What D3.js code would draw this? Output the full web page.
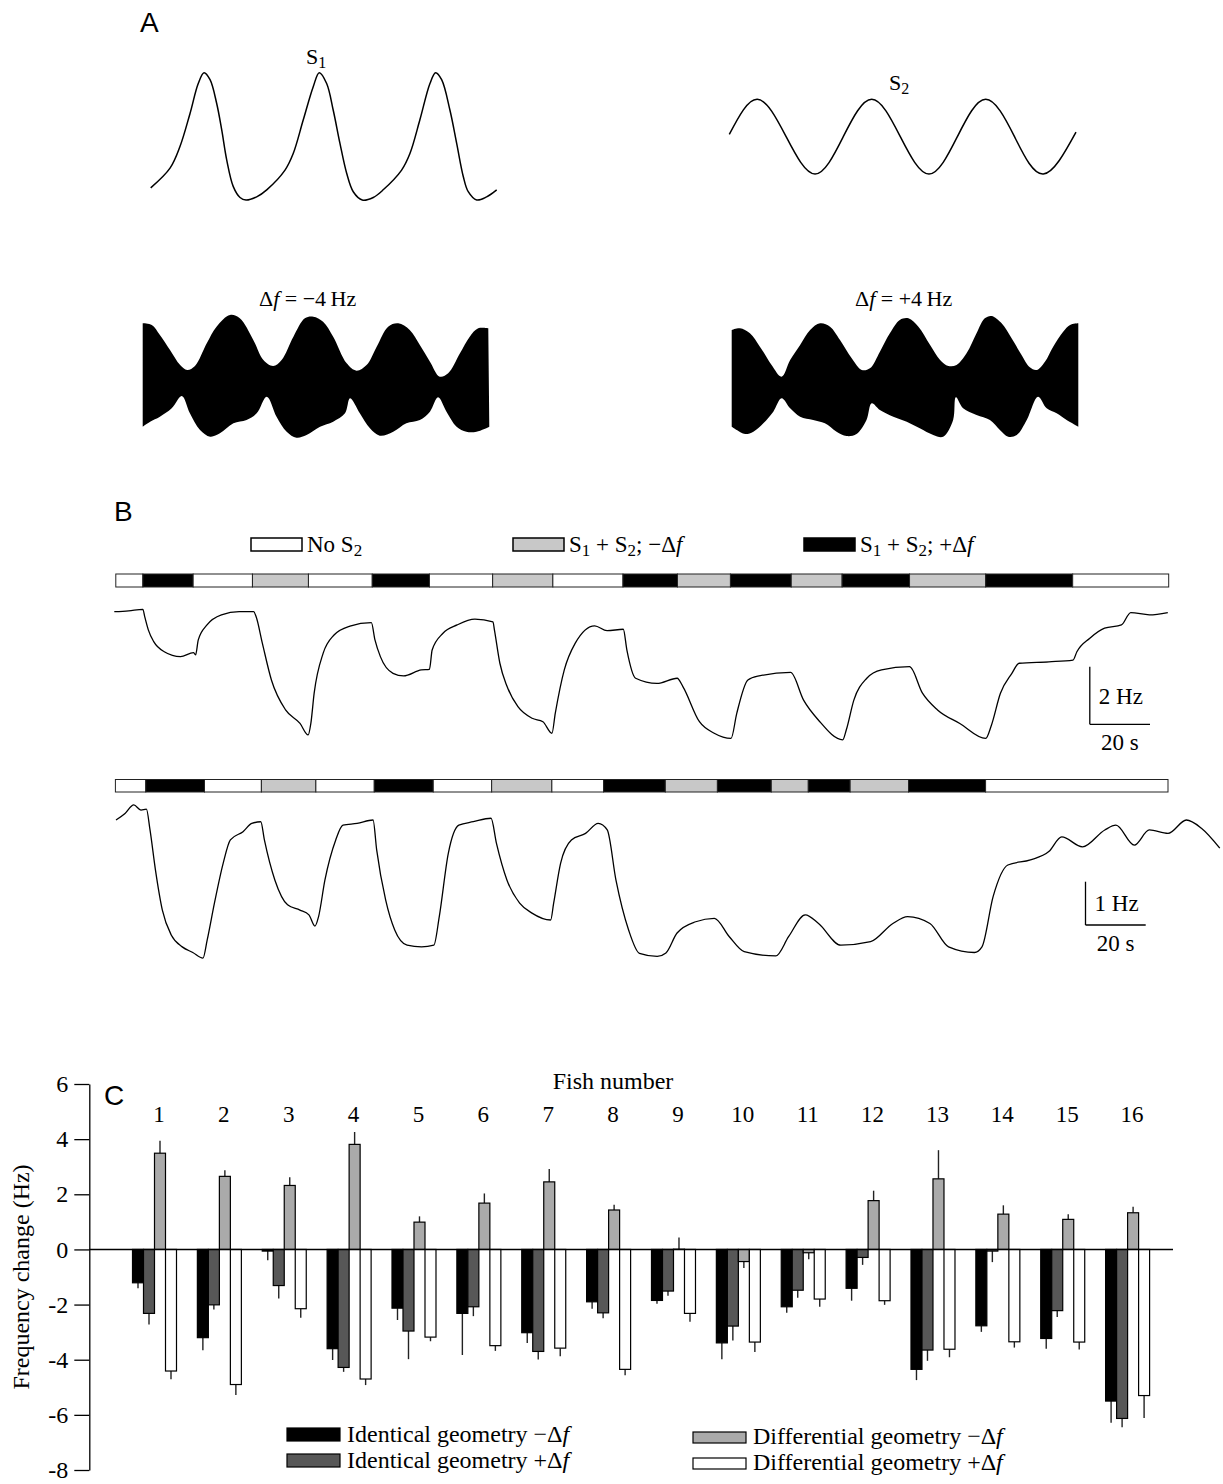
<!DOCTYPE html>
<html>
<head>
<meta charset="utf-8">
<script src="https://cdn.jsdelivr.net/npm/d3@7"></script>
<style>
body { margin: 0; background: #fff; }
text { font-family: "Liberation Serif", "Times New Roman", serif; fill: #000; }
.plabel { font-family: "Liberation Sans", Arial, sans-serif; font-size: 28px; }
</style>
</head>
<body>
<svg id="fig" width="1223" height="1484"></svg>
<script>
// ---------- panel A: stimulus waveforms (phase in cycles, normalised amplitude)
var s1Phase = [0,0.167,0.253,0.340,0.411,0.461,0.513,0.570,0.614,0.657,0.714,0.772,0.824,0.916,1.003,1.161,1.232,1.319,1.405,1.457,1.521,1.578,1.636,1.694,1.751,1.829,1.924,2.010,2.169,2.241,2.327,2.414,2.463,2.515,2.587,2.645,2.702,2.745,2.818,2.904,2.991];
var s1Amp = [-0.81,-0.50,-0.16,0.36,0.83,1.0,0.89,0.52,0.10,-0.37,-0.79,-0.96,-1.0,-0.95,-0.84,-0.53,-0.27,0.26,0.78,1.0,0.83,0.41,-0.11,-0.58,-0.87,-1.0,-0.96,-0.84,-0.53,-0.27,0.26,0.83,1.0,0.89,0.41,-0.11,-0.63,-0.87,-1.0,-0.95,-0.84];
var s2Phase = [0,0.245,0.497,0.75,0.997,1.246,1.496,1.747,1.995,2.243,2.495,2.747,3.033];
var s2Amp = [0.06,1,0,-1,0,1,0,-1,0,1,0,-1,0.12];

// beat envelopes (time ms, amplitude a.u.)
var beatMinusUpT = [0,27,51,81,111,132,155,190,219,259,288,328,358,387,412,447,481,506,535,565,605,634,664,694,728,758,792,822,852,881,906,941,970,995,1025];
var beatMinusUpA = [17,16.5,13.5,9,4.5,3,4.2,11,16,19.5,18.5,12,6,4.2,6,13,18.5,19,17.5,13,5,2.8,4.5,10,16,17,15,10.5,5.5,1,2,8,13,15.5,15.5];
var beatMinusLoT = [0,22,51,86,116,140,170,200,229,269,308,338,368,397,427,456,486,526,565,600,615,644,674,703,743,782,822,852,876,901,931,960,990,1028];
var beatMinusLoA = [-14,-12.5,-11,-8.5,-4.8,-10,-15,-17,-16,-13,-12,-10,-5,-11,-15.5,-17.3,-16.5,-14,-12.5,-10,-5.5,-10,-14.5,-16.7,-15.5,-13,-12,-9.5,-5.2,-9.5,-14,-15.5,-15.5,-14];
var beatPlusUpT = [0,24,53,82,116,145,170,199,228,257,286,315,349,378,402,431,460,489,514,543,577,606,630,654,683,712,736,756,785,814,843,867,887,911,935,964,984,1008];
var beatPlusUpA = [15,15.5,14,10,4.5,1,6,10.5,15,17,16,12,6.5,3,3.5,8.5,14,18,18.5,16,10.5,6,4.2,4.5,8,14,18.5,19.2,17,12.5,7.5,3.8,3,5.5,10,14.5,16.5,17];
var beatPlusLoT = [0,15,39,63,92,121,145,170,199,237,271,305,334,363,392,407,431,470,509,547,586,615,644,652,673,712,751,780,804,829,858,891,916,945,974,1008];
var beatPlusLoA = [-14,-15,-16.2,-15.5,-13,-9.5,-5.5,-8.5,-11,-12,-13,-15.5,-16.8,-16.2,-12,-7,-9,-11,-12.5,-14.5,-16.5,-17,-12,-5.2,-8.5,-10.5,-12,-15,-17,-16.5,-12,-5,-8.5,-10,-12,-14];

// ---------- panel B: stimulus protocol (s) and frequency traces (Hz, relative)
var stimKinds = ["none","plus","none","minus","none","plus","none","minus","none","plus","minus","plus","minus","plus","minus","plus","none"];
var stim1Edges = [0,9.0,25.7,45.4,64.0,85.2,104.2,125.2,145.2,168.5,186.6,204.2,224.4,241.3,263.7,289.0,317.9,349.8];
var stim2Edges = [0,10.1,29.6,48.5,66.6,86.0,105.6,125.0,145.0,162.2,182.7,200.0,217.9,230.2,244.1,263.5,289.1,349.7];

var trace1T = [-0.5,4.3,9.0,9.6,10.8,12.6,16.1,21.5,25.8,26.5,27.4,30.3,35.1,41.0,45.8,46.6,48.7,51.7,56.4,61.2,63.9,64.8,65.9,68.9,72.5,77.8,84.9,86.1,87.9,92.1,95.6,101.5,104.2,105.1,108.7,113.4,119.3,125.3,125.8,127.6,130.0,133.6,138.3,141.9,144.9,146.0,149.0,152.6,159.1,163.2,168.6,169.8,172.7,179.8,186.5,188.4,193.9,198.8,204.4,206.3,210.0,213.7,224.2,228.5,233.4,241.5,242.7,245.2,249.5,254.4,263.7,268.0,273.0,280.4,289.0,290.9,293.9,297.7,300.1,310.0,318.0,319.3,323.6,328.5,334.1,337.2,343.4,349.5];
var trace1F = [0,0.03,0.08,-0.17,-0.63,-1.04,-1.39,-1.56,-1.42,-1.50,-0.98,-0.46,-0.11,0,0,-0.17,-1.10,-2.37,-3.41,-3.88,-4.28,-3.88,-2.83,-1.44,-0.81,-0.50,-0.38,-0.98,-1.56,-2.14,-2.23,-2.02,-2.00,-1.33,-0.75,-0.46,-0.26,-0.35,-0.64,-1.79,-2.60,-3.30,-3.70,-3.82,-4.22,-3.53,-2.02,-1.10,-0.49,-0.66,-0.61,-1.33,-2.31,-2.49,-2.31,-2.60,-3.82,-4.22,-4.40,-3.53,-2.37,-2.23,-2.11,-3.07,-3.76,-4.45,-4.10,-3.07,-2.31,-2.02,-1.91,-2.83,-3.41,-3.88,-4.40,-3.94,-2.83,-2.14,-1.79,-1.74,-1.68,-1.39,-0.92,-0.57,-0.46,-0.03,-0.11,-0.03];
var trace2T = [0.2,3.2,6.1,8.5,10.3,11.5,13.3,15.6,18.6,22.2,25.7,29.1,30.5,32.9,35.8,38.2,42.4,45.3,48.3,49.5,53.0,57.2,61.3,64.3,66.3,67.5,69.6,73.2,75.6,80.3,85.6,86.8,89.8,92.8,96.9,101.7,105.8,107.6,110.6,114.1,118.9,124.8,126.6,130.1,134.3,138.4,144.6,145.6,147.9,151.5,156.2,160.4,163.4,166.3,170.5,174.1,180.0,182.9,186.6,192.8,199.0,203.9,208.9,219.4,223.7,229.2,233.6,241.0,250.9,258.3,263.2,270.6,276.8,285.4,287.9,291.6,296.5,304.0,310.1,314.4,321.3,328.7,332.4,338.5,343.5,349.7,355.8,360.8,366.9];
var trace2F = [0,0.15,0.35,0.23,0.25,-0.23,-1.15,-2.08,-2.66,-2.93,-3.06,-3.19,-2.77,-1.92,-1.0,-0.46,-0.27,-0.08,-0.04,-0.46,-1.39,-1.96,-2.08,-2.19,-2.45,-2.23,-1.39,-0.46,-0.12,-0.08,0,-0.69,-1.85,-2.54,-2.89,-2.93,-2.89,-2.23,-0.77,-0.12,-0.04,0.04,-0.54,-1.39,-1.92,-2.15,-2.31,-1.92,-1.0,-0.46,-0.31,-0.08,-0.23,-1.39,-2.54,-3.08,-3.15,-3.07,-2.61,-2.35,-2.27,-2.69,-3.04,-3.14,-2.69,-2.19,-2.39,-2.89,-2.81,-2.39,-2.23,-2.39,-2.93,-3.06,-2.93,-1.77,-1.04,-0.92,-0.73,-0.39,-0.62,-0.23,-0.12,-0.58,-0.23,-0.31,0,-0.19,-0.65];

// ---------- panel C: mean frequency change (Hz) and error per fish
var fish = d3.range(1, 17);
var yTicksC = [-8,-6,-4,-2,0,2,4,6];
var identMinus    = [-1.21,-3.20,-0.06,-3.60,-2.13,-2.32,-3.02,-1.90,-1.85,-3.39,-2.08,-1.41,-4.35,-2.77,-3.23,-5.50];
var identMinusErr = [0.20,0.46,0.33,0.41,0.43,1.51,0.37,0.25,0.12,0.59,0.22,0.45,0.39,0.22,0.37,0.79];
var identPlus     = [-2.32,-2.01,-1.31,-4.28,-2.96,-2.08,-3.70,-2.30,-1.51,-2.78,-1.48,-0.29,-3.65,-0.06,-2.22,-6.13];
var identPlusErr  = [0.40,0.17,0.47,0.16,1.02,0.34,0.29,0.20,0.17,0.52,0.27,0.27,0.39,0.40,0.23,0.32];
var diffMinus     = [3.49,2.65,2.32,3.81,0.99,1.68,2.45,1.43,0.01,-0.44,-0.12,1.77,2.56,1.28,1.09,1.33];
var diffMinusErr  = [0.45,0.22,0.30,0.45,0.21,0.35,0.47,0.19,0.42,0.23,0.24,0.36,1.04,0.32,0.19,0.22];
var diffPlus      = [-4.41,-4.90,-2.15,-4.70,-3.18,-3.49,-3.58,-4.35,-2.32,-3.36,-1.80,-1.86,-3.62,-3.35,-3.36,-5.30];
var diffPlusErr   = [0.30,0.38,0.33,0.22,0.15,0.19,0.29,0.21,0.30,0.36,0.28,0.15,0.29,0.21,0.27,0.81];

var svg = d3.select("#fig");

function zip(a, b) { return a.map(function(v, i) { return [v, b[i]]; }); }

// text with subscripts / italics
function rich(x, y, size, parts, anchor) {
    var t = svg.append("text").attr("x", x).attr("y", y)
        .style("font-size", size + "px").attr("text-anchor", anchor || "start");
    var shift = 0;
    parts.forEach(function(p) {
        var s = t.append("tspan").text(p.t);
        var want = p.sub ? Math.round(size * 0.18) : 0;
        if (want !== shift) { s.attr("dy", want - shift); shift = want; }
        if (p.sub) s.style("font-size", Math.round(size * 0.72) + "px");
        if (p.it) s.style("font-style", "italic");
    });
    return t;
}

// panel letters
svg.append("text").attr("class", "plabel").attr("x", 140).attr("y", 32).text("A");
svg.append("text").attr("class", "plabel").attr("x", 114).attr("y", 521).text("B");
svg.append("text").attr("class", "plabel").attr("x", 104).attr("y", 1105).text("C");

// ---------- A
var xS1 = d3.scaleLinear().domain([0, 2.991]).range([150.7, 496.7]);
var yS1 = d3.scaleLinear().domain([-1, 1]).range([200, 72.7]);
svg.append("path")
    .attr("d", d3.line().x(function(d) { return xS1(d[0]); }).y(function(d) { return yS1(d[1]); })
        .curve(d3.curveCatmullRom)(zip(s1Phase, s1Amp)))
    .attr("fill", "none").attr("stroke", "#000").attr("stroke-width", 1.5);

var xS2 = d3.scaleLinear().domain([0, 3.033]).range([729.3, 1076]);
var yS2 = d3.scaleLinear().domain([-1, 1]).range([174, 99.3]);
svg.append("path")
    .attr("d", d3.line().x(function(d) { return xS2(d[0]); }).y(function(d) { return yS2(d[1]); })
        .curve(d3.curveNatural)(zip(s2Phase, s2Amp)))
    .attr("fill", "none").attr("stroke", "#000").attr("stroke-width", 1.5);

rich(306, 64, 22, [{t: "S"}, {t: "1", sub: true}]);
rich(889, 90, 22, [{t: "S"}, {t: "2", sub: true}]);

var yBeat = d3.scaleLinear().domain([-20, 20]).range([446.7, 313.3]);
function beat(upT, upA, loT, loA, x) {
    var line = d3.line().x(function(d) { return x(d[0]); }).y(function(d) { return yBeat(d[1]); })
        .curve(d3.curveCatmullRom);
    var lo = zip(loT, loA).reverse();
    svg.append("path")
        .attr("d", line(zip(upT, upA)) + "L" + line(lo).slice(1) + "Z")
        .attr("fill", "#000");
}
beat(beatMinusUpT, beatMinusUpA, beatMinusLoT, beatMinusLoA, d3.scaleLinear().domain([0, 1028]).range([142.7, 489.3]));
beat(beatPlusUpT, beatPlusUpA, beatPlusLoT, beatPlusLoA, d3.scaleLinear().domain([0, 1008]).range([731.7, 1078.3]));

rich(259, 306, 22, [{t: "Δ"}, {t: "f", it: true}, {t: " = −4\u2009Hz"}]);
rich(855, 306, 22, [{t: "Δ"}, {t: "f", it: true}, {t: " = +4\u2009Hz"}]);

// ---------- B
var stimFill = { none: "#fff", minus: "#c8c8c8", plus: "#000" };

// legend
var legB = [
    { kind: "none", x: 251, parts: [{t: "No S"}, {t: "2", sub: true}] },
    { kind: "minus", x: 513, parts: [{t: "S"}, {t: "1", sub: true}, {t: " + S"}, {t: "2", sub: true}, {t: "; −Δ"}, {t: "f", it: true}] },
    { kind: "plus", x: 804, parts: [{t: "S"}, {t: "1", sub: true}, {t: " + S"}, {t: "2", sub: true}, {t: "; +Δ"}, {t: "f", it: true}] }
];
legB.forEach(function(d) {
    svg.append("rect").attr("x", d.x).attr("y", 538).attr("width", 51).attr("height", 13)
        .attr("fill", stimFill[d.kind]).attr("stroke", "#000").attr("stroke-width", 1.5);
    rich(d.x + 56, 552, 23, d.parts);
});

function stimBar(edges, x, y0, h) {
    var g = svg.append("g");
    g.selectAll("rect").data(stimKinds).enter().append("rect")
        .attr("x", function(d, i) { return x(edges[i]); })
        .attr("width", function(d, i) { return x(edges[i + 1]) - x(edges[i]); })
        .attr("y", y0).attr("height", h)
        .attr("fill", function(d) { return stimFill[d]; })
        .attr("stroke", "#222").attr("stroke-width", 1);
}

function trace(T, F, x, y) {
    svg.append("path")
        .attr("d", d3.line().x(function(d) { return x(d[0]); }).y(function(d) { return y(d[1]); })
            .curve(d3.curveMonotoneX)(zip(T, F)))
        .attr("fill", "none").attr("stroke", "#000").attr("stroke-width", 1.3)
        .attr("stroke-linejoin", "round");
}

function scaleBar(x, y, x0, yBottom, hz, label) {
    var len = x(20) - x(0);
    var top = y(hz) - y(0);
    var g = svg.append("g").attr("stroke", "#000").attr("stroke-width", 1.3);
    g.append("line").attr("x1", x0).attr("x2", x0).attr("y1", yBottom).attr("y2", yBottom + top);
    g.append("line").attr("x1", x0).attr("x2", x0 + len).attr("y1", yBottom).attr("y2", yBottom);
    svg.append("text").attr("x", x0 + len / 2 + 1).attr("y", yBottom + top / 2 + 8)
        .attr("text-anchor", "middle").style("font-size", "23px").text(label);
    svg.append("text").attr("x", x0 + len / 2).attr("y", yBottom + 26)
        .attr("text-anchor", "middle").style("font-size", "23px").text("20 s");
}

var xT1 = d3.scaleLinear().domain([0, 350]).range([115.8, 115.8 + 350 * 3.01]);
var yT1 = d3.scaleLinear().domain([-5, 1]).range([611.7 + 5 * 28.8, 611.7 - 28.8]);
stimBar(stim1Edges, xT1, 574, 13);
trace(trace1T, trace1F, xT1, yT1);
scaleBar(xT1, yT1, 1089.8, 724.3, 2, "2 Hz");

var xT2 = d3.scaleLinear().domain([0, 350]).range([115.4, 115.4 + 350 * 3.01]);
var yT2 = d3.scaleLinear().domain([-4, 1]).range([820 + 4 * 43.3, 820 - 43.3]);
stimBar(stim2Edges, xT2, 779.5, 12.5);
trace(trace2T, trace2F, xT2, yT2);
scaleBar(xT2, yT2, 1085.5, 925, 1, "1 Hz");

// ---------- C
var yC = d3.scaleLinear().domain([-8, 6]).range([1470, 1084]);
var xFish = d3.scaleLinear().domain([1, 16]).range([154.5, 1127.6]);
var xSer = d3.scaleBand().domain([0, 1, 2, 3]).range([-22, 22]);

var series = [
    { vals: identMinus, errs: identMinusErr, fill: "#000", label: "Identical geometry −Δ" },
    { vals: identPlus, errs: identPlusErr, fill: "#575757", label: "Identical geometry +Δ" },
    { vals: diffMinus, errs: diffMinusErr, fill: "#aaaaaa", label: "Differential geometry −Δ" },
    { vals: diffPlus, errs: diffPlusErr, fill: "#fff", label: "Differential geometry +Δ" }
];

var axisC = svg.append("g").attr("transform", "translate(89.3,0)")
    .call(d3.axisLeft(yC).tickValues(yTicksC).tickSize(15).tickSizeOuter(0).tickPadding(6)
        .tickFormat(function(d) { return String(d); }));
axisC.select(".domain").attr("stroke-width", 1.3);
axisC.selectAll(".tick line").attr("stroke-width", 1.3);
axisC.selectAll("text").style("font-size", "24px").attr("font-family", null);

svg.append("text").attr("transform", "translate(29,1277) rotate(-90)")
    .attr("text-anchor", "middle").style("font-size", "24px").text("Frequency change (Hz)");
svg.append("text").attr("x", 613).attr("y", 1089).attr("text-anchor", "middle")
    .style("font-size", "24px").text("Fish number");
svg.selectAll(".fishlab").data(fish).enter().append("text")
    .attr("x", function(d) { return xFish(d) + 4.5; }).attr("y", 1122)
    .attr("text-anchor", "middle").style("font-size", "23px").text(function(d) { return d; });

series.forEach(function(s, si) {
    var g = svg.append("g");
    g.selectAll("line").data(fish).enter().append("line")
        .attr("x1", function(d) { return xFish(d) + xSer(si) + xSer.bandwidth() / 2; })
        .attr("x2", function(d) { return xFish(d) + xSer(si) + xSer.bandwidth() / 2; })
        .attr("y1", function(d, i) { return yC(s.vals[i]); })
        .attr("y2", function(d, i) { var v = s.vals[i]; return yC(v + (v < 0 ? -1 : 1) * s.errs[i]); })
        .attr("stroke", "#222").attr("stroke-width", 1.4);
    g.selectAll("rect").data(fish).enter().append("rect")
        .attr("x", function(d) { return xFish(d) + xSer(si); })
        .attr("width", xSer.bandwidth())
        .attr("y", function(d, i) { return yC(Math.max(0, s.vals[i])); })
        .attr("height", function(d, i) { return Math.abs(yC(s.vals[i]) - yC(0)); })
        .attr("fill", s.fill).attr("stroke", "#000").attr("stroke-width", 1.2);
});

svg.append("line").attr("x1", 89.3).attr("x2", 1173).attr("y1", yC(0)).attr("y2", yC(0))
    .attr("stroke", "#000").attr("stroke-width", 1.4);

// legend C
var legC = [
    { x: 287, y: 1428, h: 13 }, { x: 287, y: 1454, h: 13 },
    { x: 693, y: 1432, h: 11 }, { x: 693, y: 1458, h: 11 }
];
series.forEach(function(s, i) {
    var p = legC[i];
    svg.append("rect").attr("x", p.x).attr("y", p.y).attr("width", 53).attr("height", p.h)
        .attr("fill", s.fill).attr("stroke", "#000").attr("stroke-width", 1.2);
    rich(p.x + 60, p.y + p.h + 1, 24, [{t: s.label}, {t: "f", it: true}]);
});
</script>
</body>
</html>
